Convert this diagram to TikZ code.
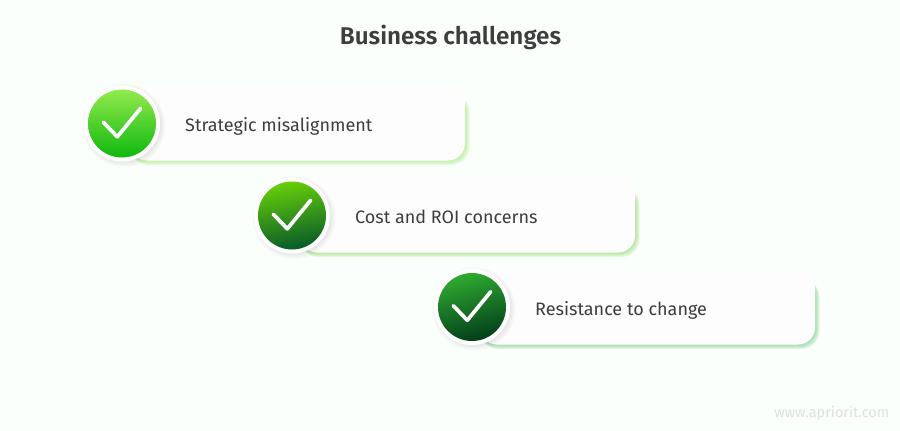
\documentclass[tikz,border=0pt]{standalone}
\usepackage{fontspec}
\setmainfont{Fira Sans}[BoldFont={Fira Sans SemiBold}]
\definecolor{bgc}{HTML}{FBFFFB}
\definecolor{cardc}{HTML}{FDFDFD}
\definecolor{txtc}{HTML}{3D3D3D}
\definecolor{wmc}{HTML}{DFE2DF}
\definecolor{shA}{HTML}{B4F090}
\definecolor{shB}{HTML}{A9E08F}
\definecolor{shC}{HTML}{92D6A0}
\definecolor{aT}{HTML}{92EA4C}\definecolor{aB}{HTML}{0FB80F}
\definecolor{bT}{HTML}{66CF08}\definecolor{bB}{HTML}{075A2B}
\definecolor{cT}{HTML}{2FAA30}\definecolor{cB}{HTML}{023D1A}
\tikzset{
  x=1pt,y=-1pt,
  cardbox/.style={fill=cardc,rounded corners=17pt},
  label/.style={anchor=base west,text=txtc,font=\fontsize{18}{20}\selectfont,inner sep=0pt},
  ringdisc/.style={circle,fill=white,inner sep=0pt,minimum size=76pt},
  badge/.style={circle,inner sep=0pt,minimum size=68pt},
  checkline/.style={draw=white,line width=3.7pt,line cap=round,line join=round},
}
% #1 name, #2 left, #3 top, #4 right, #5 bottom, #6 shadow colour, #7 text x, #8 text
\newcommand{\cardrow}[8]{%
  \foreach \g in {6,5,4,3,2,1,0}{%
    \fill[#6,opacity=0.16,rounded corners=18pt]
      (#2,#3+8) rectangle (#4+1+\g*0.6,#5+1+\g*0.6);
  }
  \fill[cardbox] (#2,#3) rectangle (#4,#5);
  \node[label] (#1) at (#7,#5-29.5) {#8};
}
% #1 name, #2 x, #3 y, #4 top, #5 bottom
\newcommand{\badgerow}[5]{%
  \foreach \g in {6,5,4,3,2,1,0}{%
    \fill[black,opacity=0.012] (#2+2,#3+2) circle (37+\g*0.8);
  }
  \node[ringdisc] at (#2,#3) {};
  \node[badge,top color=#4,bottom color=#5,shading angle=#1] at (#2,#3) {};
  \draw[checkline] (#2-18.7,#3-1.3) -- (#2-4.7,#3+13.3) -- (#2+18.7,#3-15.3);
}
\begin{document}
\begin{tikzpicture}
\useasboundingbox (0,0) rectangle (900,431);
\fill[bgc] (0,0) rectangle (900,431);
\node[anchor=base,text=txtc,font=\bfseries\fontsize{24.2}{26}\selectfont,inner sep=0pt] (title) at (450.5,44) {Business challenges};
\cardrow{one}{130}{86}{465}{160.5}{shA}{185}{Strategic misalignment}
\cardrow{two}{300}{179}{635}{252.5}{shB}{355}{Cost and ROI concerns}
\cardrow{three}{480}{271}{815}{344.5}{shC}{535}{Resistance to change}
\badgerow{0}{122}{123.5}{aT}{aB}
\badgerow{10}{292}{215.5}{bT}{bB}
\badgerow{15}{472}{307}{cT}{cB}
\node[anchor=base east,text=wmc,font=\fontsize{14.5}{15}\selectfont,inner sep=0pt] (site) at (889.5,417) {www.apriorit.com};
\end{tikzpicture}
\end{document}
